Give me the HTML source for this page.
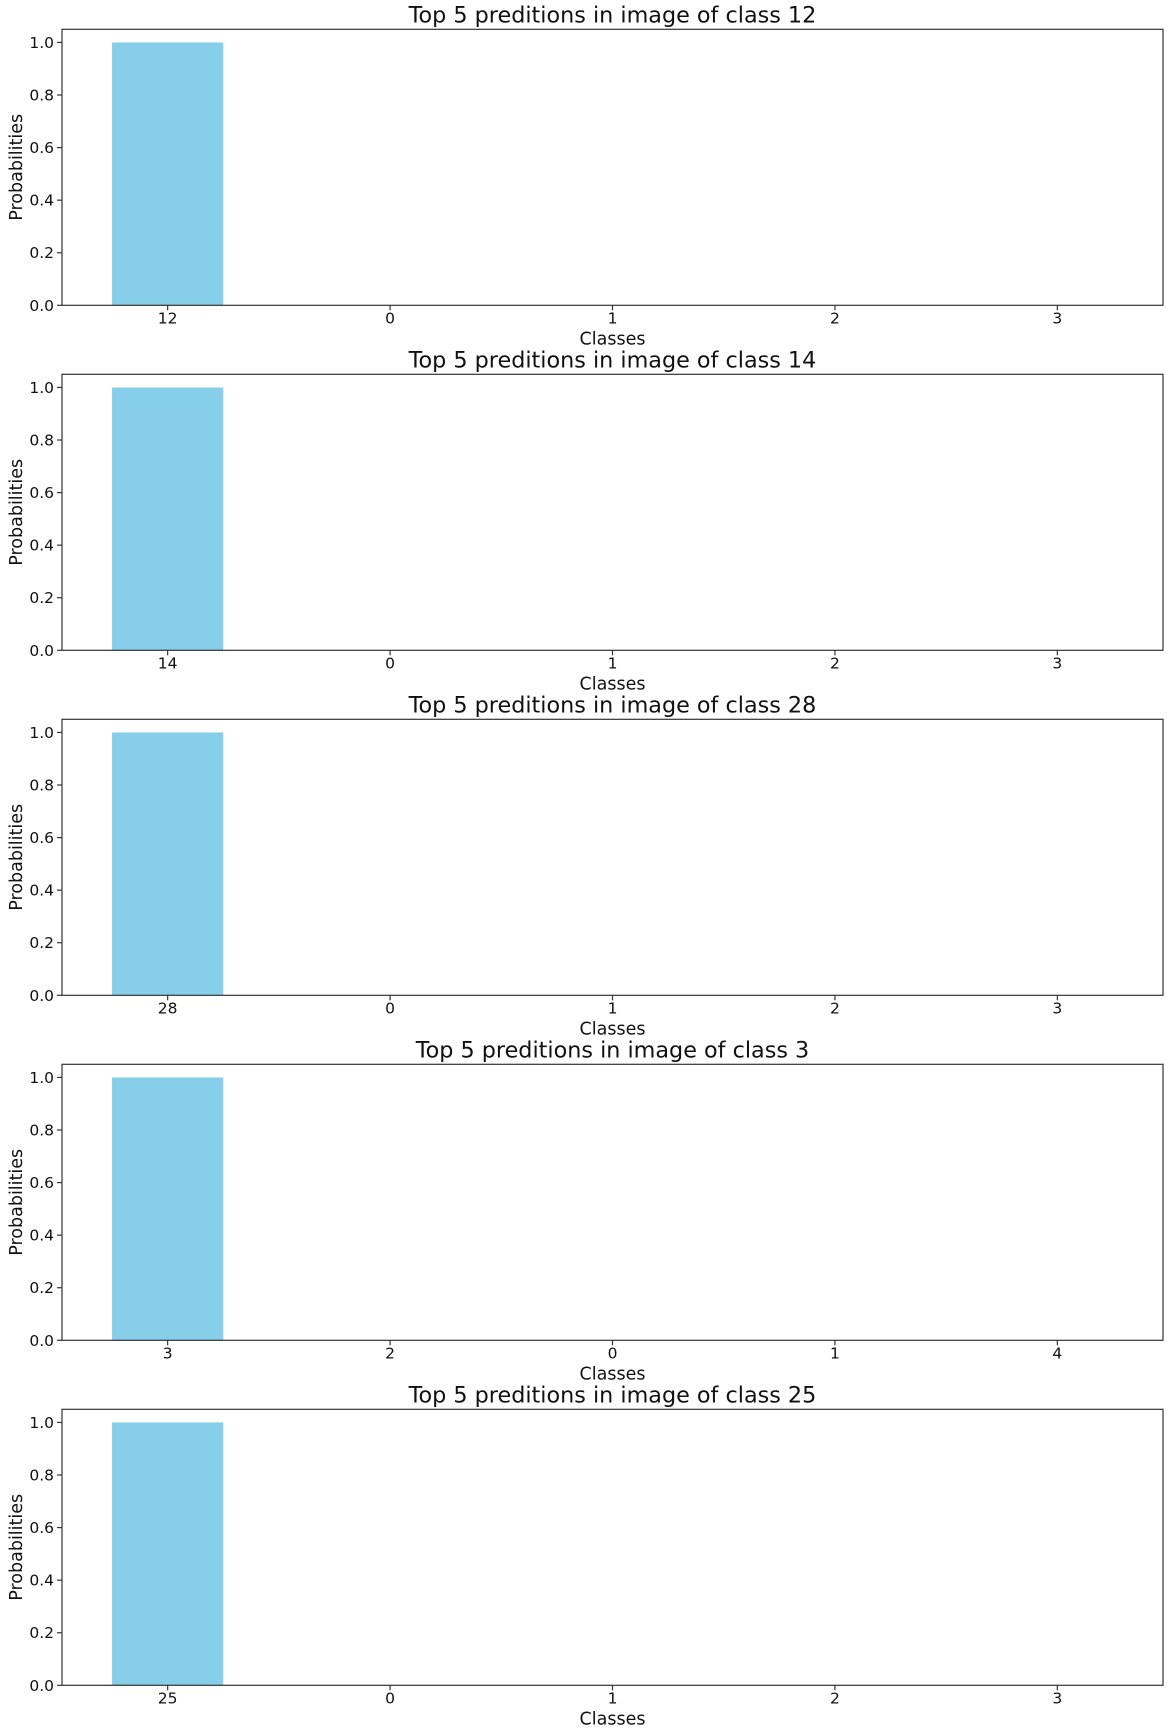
<!DOCTYPE html>
<html><head><meta charset="utf-8"><style>
html,body{margin:0;padding:0;background:#fff;}
svg{display:block;font-family:"DejaVu Sans","Liberation Sans",sans-serif;}
</style></head><body>
<svg id="fig" width="1174" height="1736" viewBox="0 0 1174 1736" xmlns="http://www.w3.org/2000/svg"></svg>
<script>
const titles = ["12","14","28","3","25"];
const categories = [["12","0","1","2","3"],["14","0","1","2","3"],["28","0","1","2","3"],["3","2","0","1","4"],["25","0","1","2","3"]];
const values = [[1.0,0,0,0,0],[1.0,0,0,0,0],[1.0,0,0,0,0],[1.0,0,0,0,0],[1.0,0,0,0,0]];
const yTicks = [0.0,0.2,0.4,0.6,0.8,1.0];

const NS="http://www.w3.org/2000/svg";
const svg=document.getElementById('fig');
function mk(tag,attrs,parent){const e=document.createElementNS(NS,tag);for(const k in attrs)e.setAttribute(k,attrs[k]);parent.appendChild(e);return e;}
const L=62,R=1163,H=276,TOP0=29.3,PITCH=345;
const xmin=-0.475,xmax=4.475,ymax=1.05,barW=0.5;
for(let p=0;p<5;p++){
  const top=TOP0+p*PITCH,bot=top+H;
  const X=v=>L+(v-xmin)/(xmax-xmin)*(R-L);
  const Y=v=>bot-v/ymax*H;
  const g=mk('g',{},svg);
  
  
  values[p].forEach((v,i)=>{
    const r=mk('rect',{x:X(i-barW/2),y:Y(v),width:X(i+barW/2)-X(i-barW/2),height:bot-Y(v),fill:'#87ceeb'},g);
    
    
  });
  const fr=mk('rect',{x:L,y:top,width:R-L,height:H,fill:'none',stroke:'#333',"stroke-width":1.2},g);
  
  
  yTicks.forEach(t=>{
    mk('line',{x1:L-5,x2:L,y1:Y(t),y2:Y(t),stroke:'#333',"stroke-width":1.2},g);
    const tx=mk('text',{x:L-8,y:Y(t)+5.5,"text-anchor":"end","font-size":"15.5",fill:'#111'},g);
    tx.textContent=t.toFixed(1);
    
    
  });
  categories[p].forEach((c,i)=>{
    mk('line',{x1:X(i),x2:X(i),y1:bot,y2:bot+5,stroke:'#333',"stroke-width":1.2},g);
    const tx=mk('text',{x:X(i),y:bot+18,"text-anchor":"middle","font-size":"15.5",fill:'#111'},g);
    tx.textContent=c;
    
    
  });
  const xl=mk('text',{x:(L+R)/2,y:bot+39,"text-anchor":"middle","font-size":"17.5",fill:'#111'},g);
  xl.textContent='Classes';
  
  
  const yl=mk('text',{x:0,y:0,"text-anchor":"middle","font-size":"17.5",fill:'#111',transform:`translate(22,${(top+bot)/2}) rotate(-90)`},g);
  yl.textContent='Probabilities';
  
  
  const tt=mk('text',{x:(L+R)/2,y:top-7,"text-anchor":"middle","font-size":"22.3",fill:'#111'},g);
  tt.textContent='Top 5 preditions in image of class '+titles[p];
  
  
}
</script>
</body></html>
